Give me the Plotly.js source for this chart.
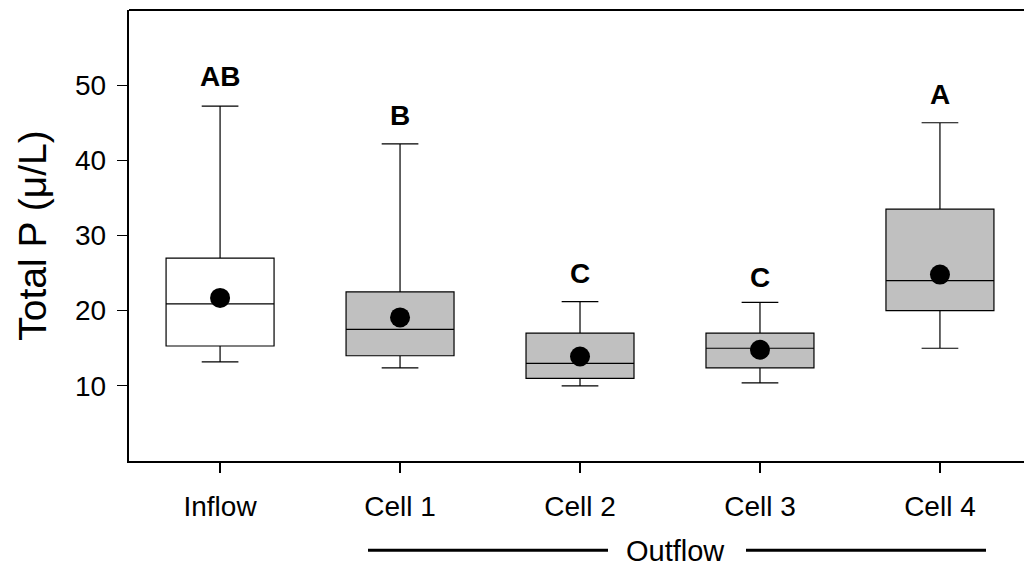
<!DOCTYPE html>
<html>
<head>
<meta charset="utf-8">
<script src="https://cdn.plot.ly/plotly-3.0.1.min.js"></script>
<style>html,body{margin:0;padding:0;background:#fff;}#chart{width:1024px;height:567px;}</style>
</head>
<body>
<div id="chart"></div>
<script>
// Data
var categories = ["Inflow", "Cell 1", "Cell 2", "Cell 3", "Cell 4"];
var upperWhisker = [47.2, 42.2, 21.2, 21.1, 45.0];
var q3Values     = [27.0, 22.5, 17.0, 17.0, 33.5];
var medianValues = [20.9, 17.5, 13.0, 15.0, 24.0];
var q1Values     = [15.3, 14.0, 11.0, 12.4, 20.0];
var lowerWhisker = [13.2, 12.4, 10.0, 10.4, 15.0];
var meanValues   = [21.7, 19.1, 13.9, 14.8, 24.8];
var groupLetters = ["AB", "B", "C", "C", "A"];
var letterY      = [51.2, 46.0, 24.9, 24.4, 48.7];
var yTickVals    = [10, 20, 30, 40, 50];
var outflowLabel = "Outflow";

var FONT = "Liberation Sans, Arial, sans-serif";

function pick(arr, idx) { return idx.map(function (i) { return arr[i]; }); }

function boxTrace(idx, fill) {
  return {
    type: "box",
    x: pick(categories, idx),
    q1: pick(q1Values, idx),
    median: pick(medianValues, idx),
    q3: pick(q3Values, idx),
    lowerfence: pick(lowerWhisker, idx),
    upperfence: pick(upperWhisker, idx),
    width: 0.6,
    whiskerwidth: 0.34,
    fillcolor: fill,
    line: {color: "#000000", width: 1.2},
    boxpoints: false,
    hoverinfo: "skip",
    showlegend: false
  };
}

var traces = [
  boxTrace([0], "#ffffff"),
  boxTrace([1, 2, 3, 4], "#c0c0c0"),
  {
    type: "scatter",
    mode: "markers",
    x: categories,
    y: meanValues,
    marker: {color: "#000000", size: 20, symbol: "circle"},
    showlegend: false,
    hoverinfo: "skip"
  }
];

var annotations = categories.map(function (c, i) {
  return {
    x: c, y: letterY[i], xref: "x", yref: "y",
    text: "<b>" + groupLetters[i] + "</b>",
    showarrow: false,
    font: {family: FONT, size: 28, color: "#000000"},
    xanchor: "center", yanchor: "middle"
  };
});

// pixel helpers for the "Outflow" bracket below the axis
var plotLeft = 129, plotWidth = 895, plotTop = 10, plotBottom = 460.7;
var plotHeight = plotBottom - plotTop;
function px(x) { return (x - plotLeft) / plotWidth; }
function py(y) { return (plotBottom - y) / plotHeight; }

annotations.push({
  x: px(675.5), y: py(551), xref: "paper", yref: "paper",
  text: outflowLabel, showarrow: false,
  font: {family: FONT, size: 29, color: "#000000"},
  xanchor: "center", yanchor: "middle"
});

var shapes = [
  {type: "line", xref: "paper", yref: "paper", x0: px(368), x1: px(608), y0: py(550), y1: py(550),
   line: {color: "#000000", width: 3}},
  {type: "line", xref: "paper", yref: "paper", x0: px(746), x1: px(986), y0: py(550), y1: py(550),
   line: {color: "#000000", width: 3}},
  {type: "line", xref: "paper", yref: "paper", x0: 0, x1: 1, y0: 1, y1: 1,
   line: {color: "#000000", width: 2.2}}
];

var layout = {
  width: 1024,
  height: 567,
  margin: {l: plotLeft, r: 0, t: plotTop, b: 567 - plotBottom, pad: 0},
  paper_bgcolor: "#ffffff",
  plot_bgcolor: "#ffffff",
  font: {family: FONT, color: "#000000"},
  showlegend: false,
  xaxis: {
    type: "category",
    categoryorder: "array",
    categoryarray: categories,
    range: [-0.506, 4.467],
    showgrid: false,
    zeroline: false,
    showline: true,
    linecolor: "#000000",
    linewidth: 2.2,
    ticks: "outside",
    ticklen: 10,
    tickwidth: 1.2,
    tickcolor: "#000000",
    tickfont: {family: FONT, size: 28, color: "#000000"},
    ticklabelstandoff: 9,
    fixedrange: true
  },
  yaxis: {
    range: [0, 60],
    tickvals: yTickVals,
    ticktext: yTickVals.map(String),
    showgrid: false,
    zeroline: false,
    showline: true,
    linecolor: "#000000",
    linewidth: 2.2,
    ticks: "outside",
    ticklen: 10,
    tickwidth: 1.2,
    tickcolor: "#000000",
    tickfont: {family: FONT, size: 28, color: "#000000"},
    ticklabelstandoff: 5,
    title: {text: "Total P (μ/L)", font: {family: FONT, size: 39, color: "#000000"}, standoff: 16},
    automargin: false,
    fixedrange: true
  },
  shapes: shapes,
  annotations: annotations
};

Plotly.newPlot("chart", traces, layout, {displayModeBar: false, staticPlot: true});
</script>
</body>
</html>
